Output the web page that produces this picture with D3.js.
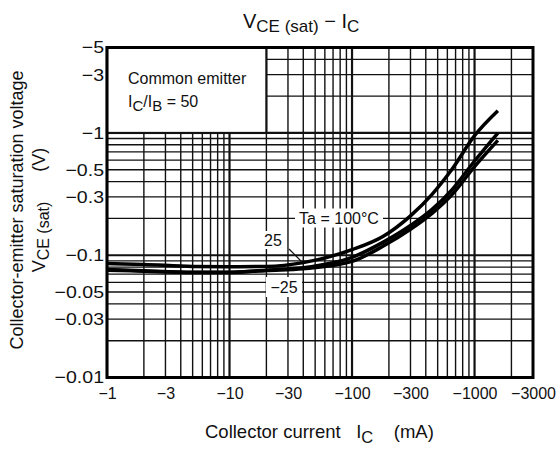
<!DOCTYPE html>
<html>
<head>
<meta charset="utf-8">
<script src="https://cdn.jsdelivr.net/npm/d3@7"></script>
<style>
  html, body { margin: 0; padding: 0; background: #fff; }
  svg { display: block; font-family: "Liberation Sans", Arial, Helvetica, sans-serif; }
</style>
</head>
<body>
<svg id="chart" width="556" height="450"></svg>
<script>
// ---------------- data ----------------
const collectorCurrent = [-1, -2, -5, -10, -20, -40, -100, -180, -300, -450, -650, -1000, -1550]; // mA
const vceTa100   = [-0.0855, -0.084, -0.081, -0.0805, -0.081, -0.087, -0.111, -0.143, -0.21, -0.315, -0.50, -0.95, -1.52];
const vceTa25    = [-0.0765, -0.0745, -0.0725, -0.0725, -0.0755, -0.079, -0.096, -0.128, -0.175, -0.237, -0.34, -0.59, -1.0];
const vceTaM25   = [-0.0755, -0.074, -0.0722, -0.0722, -0.075, -0.0775, -0.089, -0.119, -0.163, -0.22, -0.31, -0.53, -0.87];
const xTickValues = [-1, -3, -10, -30, -100, -300, -1000, -3000];
const yTickValues = [-5, -3, -1, -0.5, -0.3, -0.1, -0.05, -0.03, -0.01];
const seriesNames = ["Ta = 100°C", "25", "−25"];

// ---------------- layout ----------------
const svg = d3.select("#chart");
const L = 107, R = 533, T = 47.5, B = 377.5;
const x = d3.scaleLog().domain([-1, -3000]).range([L, R]);
const y = d3.scaleLog().domain([-0.01, -5]).range([B, T]);
const fmt = v => "−" + String(Math.abs(v));

// grid values
const xGrid = [];
[1, 10, 100, 1000].forEach(d => { for (let k = 1; k <= 9; k++) { const v = -d * k; if (v >= -3000) xGrid.push(v); } });
const yGrid = [];
[0.01, 0.1, 1].forEach(d => { for (let k = 1; k <= 9; k++) { const v = -d * k; if (v >= -5) yGrid.push(+v.toFixed(4)); } });
const isDecade = v => Math.abs(Math.log10(Math.abs(v)) - Math.round(Math.log10(Math.abs(v)))) < 1e-9;

const grid = svg.append("g");
grid.selectAll("line.v").data(xGrid).join("line")
  .attr("x1", d => x(d)).attr("x2", d => x(d)).attr("y1", T).attr("y2", B)
  .attr("stroke", "#111").attr("stroke-width", d => isDecade(d) ? 2.2 : 1.4);
grid.selectAll("line.h").data(yGrid).join("line")
  .attr("y1", d => y(d)).attr("y2", d => y(d)).attr("x1", L).attr("x2", R)
  .attr("stroke", "#111").attr("stroke-width", d => isDecade(d) ? 2.2 : 1.4);

// legend box (white area upper-left, no grid)
svg.append("rect").attr("x", L).attr("y", T).attr("width", x(-20) - L).attr("height", y(-1) - T)
  .attr("fill", "#fff").attr("stroke", "#111").attr("stroke-width", 2.2);
const lg = svg.append("g").attr("font-size", 16).attr("fill", "#111");
lg.append("text").attr("x", 128).attr("y", 84).text("Common emitter");
const t2 = lg.append("text").attr("x", 128).attr("y", 107);
t2.append("tspan").text("I");
t2.append("tspan").attr("dy", 4).attr("font-size", 15).text("C");
t2.append("tspan").attr("dy", -4).text("/I");
t2.append("tspan").attr("dy", 4).attr("font-size", 15).text("B");
t2.append("tspan").attr("dy", -4).text(" = 50");

// curves
const line = d3.line().x((d) => x(d[0])).y(d => y(d[1])).curve(d3.curveMonotoneX);
[vceTa100, vceTa25, vceTaM25].forEach(vals => {
  svg.append("path").datum(collectorCurrent.map((c, i) => [c, vals[i]]))
    .attr("d", line).attr("fill", "none").attr("stroke", "#000").attr("stroke-width", 3.5)
    .attr("stroke-linecap", "butt");
});

// curve labels with white backgrounds
function label(txt, cx, cy, w, h) {
  svg.append("rect").attr("x", cx - w / 2).attr("y", cy - h / 2).attr("width", w).attr("height", h).attr("fill", "#fff");
  svg.append("text").attr("x", cx).attr("y", cy + 6).attr("text-anchor", "middle")
    .attr("font-size", 16).attr("fill", "#111").text(txt);
}
label(seriesNames[0], 339, 218, 88, 19);
label(seriesNames[1], 273, 240, 22, 18);
label(seriesNames[2], 284, 287, 36, 20);
svg.append("line").attr("x1", 289).attr("y1", 249).attr("x2", 302).attr("y2", 262)
  .attr("stroke", "#111").attr("stroke-width", 1.2);

// frame
svg.append("rect").attr("x", L).attr("y", T).attr("width", R - L).attr("height", B - T)
  .attr("fill", "none").attr("stroke", "#000").attr("stroke-width", 3);

// axes
const xAxis = svg.append("g").attr("transform", `translate(0,${B})`)
  .call(d3.axisBottom(x).tickValues(xTickValues).tickFormat(fmt).tickSize(0).tickPadding(0));
xAxis.select(".domain").remove();
xAxis.selectAll("text").attr("font-size", 16).attr("font-family", null).attr("fill", "#111").attr("dy", null).attr("y", 21);

const yAxis = svg.append("g").attr("transform", `translate(${L - 3},0)`)
  .call(d3.axisLeft(y).tickValues(yTickValues).tickFormat(fmt).tickSize(0).tickPadding(0));
yAxis.select(".domain").remove();
yAxis.selectAll("text").attr("font-size", 17).attr("font-family", null).attr("fill", "#111")
  .attr("dy", "0.32em").attr("x", 0).attr("transform", "scale(1.15,1)");

// title
const title = svg.append("text").attr("x", 243).attr("y", 28).attr("font-size", 20).attr("fill", "#111");
title.append("tspan").text("V");
title.append("tspan").attr("dy", 4).attr("font-size", 17).text("CE (sat)");
title.append("tspan").attr("dy", -4).text(" − I");
title.append("tspan").attr("dy", 4).attr("font-size", 17).text("C");

// x axis label
const xl = svg.append("text").attr("x", 205).attr("y", 438).attr("font-size", 18.5).attr("fill", "#111")
  .attr("xml:space", "preserve");
xl.append("tspan").text("Collector current   I");
xl.append("tspan").attr("dy", 5).attr("font-size", 16.5).text("C");
xl.append("tspan").attr("dy", -5).text("    (mA)");

// y axis labels (rotated)
svg.append("text").attr("transform", "translate(23,210) rotate(-90)").attr("text-anchor", "middle")
  .attr("font-size", 18).attr("fill", "#111").text("Collector-emitter saturation voltage");
const yl = svg.append("text").attr("transform", "translate(45,210) rotate(-90)").attr("text-anchor", "middle")
  .attr("font-size", 18).attr("fill", "#111").attr("xml:space", "preserve");
yl.append("tspan").text("V");
yl.append("tspan").attr("dy", 4).attr("font-size", 16).text("CE (sat)");
yl.append("tspan").attr("dy", -4).text("      (V)");
</script>
</body>
</html>
